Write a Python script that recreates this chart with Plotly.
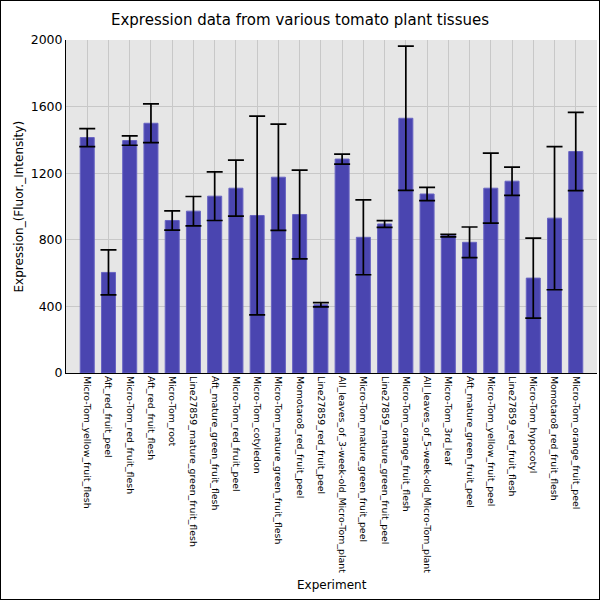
import plotly.graph_objects as go

experiments = [
    "Micro-Tom_yellow_fruit_flesh", "Aft_red_fruit_peel", "Micro-Tom_red_fruit_flesh",
    "Aft_red_fruit_flesh", "Micro-Tom_root", "Line27859_mature_green_fruit_flesh",
    "Aft_mature_green_fruit_flesh", "Micro-Tom_red_fruit_peel", "Micro-Tom_cotyledon",
    "Micro-Tom_mature_green_fruit_flesh", "Momotaro8_red_fruit_peel", "Line27859_red_fruit_peel",
    "All_leaves_of_3-week-old_Micro-Tom_plant", "Micro-Tom_mature_green_fruit_peel",
    "Line27859_mature_green_fruit_peel", "Micro-Tom_orange_fruit_flesh",
    "All_leaves_of_5-week-old_Micro-Tom_plant", "Micro-Tom_3rd_leaf",
    "Aft_mature_green_fruit_peel", "Micro-Tom_yellow_fruit_peel", "Line27859_red_fruit_flesh",
    "Micro-Tom_hypocotyl", "Momotaro8_red_fruit_flesh", "Micro-Tom_orange_fruit_peel",
]
expression = [1414, 604, 1396, 1500, 916, 972, 1062, 1110, 946, 1176, 952, 410,
              1285, 815, 895, 1530, 1075, 825, 785, 1110, 1152, 570, 930, 1330]
std_err = [54, 135, 28, 116, 58, 88, 146, 168, 597, 319, 267, 13,
           30, 225, 20, 433, 40, 8, 92, 210, 85, 240, 430, 235]

L, R, T, B = 66, 3, 40, 227
pw, ph = 600 - L - R, 600 - T - B

fig = go.Figure()
fig.add_trace(go.Bar(
    x=experiments, y=expression,
    marker=dict(color="#4A45B0", line=dict(color="#6864C2", width=1)),
    width=0.66,
    error_y=dict(type="data", array=std_err, visible=True,
                 color="black", thickness=1.7, width=8),
))

# black frame round the whole picture
fig.add_shape(type="rect", xref="paper", yref="paper",
              x0=-L / pw, x1=1 + R / pw, y0=-B / ph, y1=1 + T / ph,
              line=dict(color="black", width=2), layer="above")

# axis titles
fig.add_annotation(text="Experiment", xref="paper", yref="paper",
                   x=0.5, y=-(585 - T - ph) / ph, yanchor="middle",
                   showarrow=False, font=dict(size=12))
fig.add_annotation(text="Expression_(Fluor._Intensity)", xref="paper", yref="paper",
                   x=-(L - 18) / pw, y=0.5, xanchor="center", textangle=-90,
                   showarrow=False, font=dict(size=12))

fig.update_layout(
    width=600, height=600,
    margin=dict(l=L, r=R, t=T, b=B),
    paper_bgcolor="white", plot_bgcolor="#E6E6E6",
    font=dict(family="DejaVu Sans", color="black"),
    title=dict(text="Expression data from various tomato plant tissues",
               x=0.5, xanchor="center", xref="container", y=1 - 20 / 600, yanchor="middle",
               font=dict(size=15)),
    showlegend=False,
)
fig.update_xaxes(
    automargin=False,
    tickangle=90, tickfont=dict(size=9.4),
    showgrid=True, gridcolor="#C8C8C8", gridwidth=1,
    showline=True, linecolor="black", linewidth=1,
    range=[-1, 24], ticks="",
)
fig.update_yaxes(
    automargin=False,
    range=[0, 2000], tickvals=[0, 400, 800, 1200, 1600, 2000],
    tickfont=dict(size=12.5),
    showgrid=True, gridcolor="#C8C8C8", gridwidth=1,
    showline=True, linecolor="black", linewidth=1,
    ticks="", zeroline=False,
)

# page margin off so the figure sits at the window corner
fig.write_html("out.html", config={"displayModeBar": False},
               post_script="document.body.style.margin='0';")
